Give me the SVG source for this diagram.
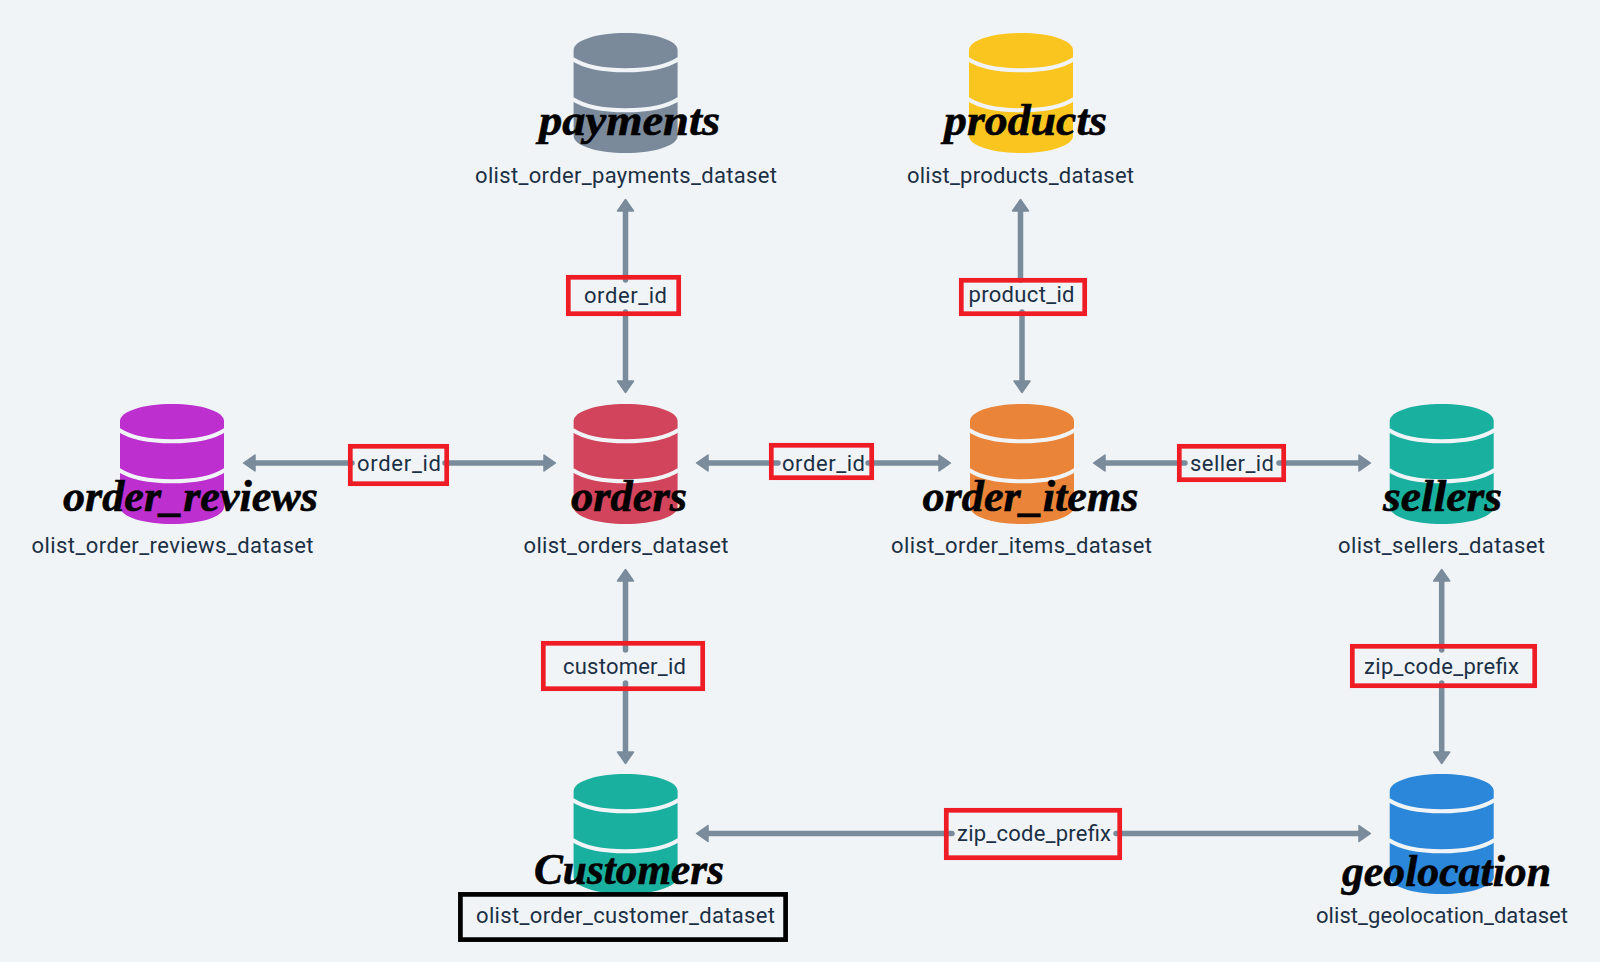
<svg xmlns="http://www.w3.org/2000/svg" xmlns:xlink="http://www.w3.org/1999/xlink" width="1600" height="962" viewBox="0 0 1600 962">
<style>
.bg{fill:#f1f4f7}
.conn{stroke:#7a8b9b;stroke-width:5.500;stroke-linecap:round;fill:none;marker-end:url(#head)}
.box{fill:none;stroke:#ee1c25;stroke-width:4.7}
.box2{fill:none;stroke:#000;stroke-width:4.7}
.lab{font-family:Roboto,"Liberation Sans",sans-serif;font-size:22px;fill:#1b3045}
.title{font-family:"Liberation Serif",serif;font-style:italic;font-weight:700;font-size:44px;fill:#000;stroke:#000;stroke-width:.6}
.band{fill:none;stroke:#f1f4f7;stroke-width:4}
</style>
<defs>
<marker id="head" markerUnits="userSpaceOnUse" markerWidth="16" markerHeight="22" refX="1" refY="11" orient="auto" viewBox="0 0 16 22">
<path d="M1,3L12.500,11L1,19Z" fill="#7a8b9b" stroke="#7a8b9b" stroke-width="1.500" stroke-linejoin="round"/>
</marker>
<g id="cyl">
<path d="M-52,17C-52,7.500-29,0,0,0S52,7.500,52,17V103C52,112.500,29,120,0,120S-52,112.500-52,103Z"/>
<path class="band" d="M-53,26C-30,41,30,41,53,26"/>
<path class="band" d="M-53,66C-30,81,30,81,53,66"/>
</g>
</defs>
<rect class="bg" width="1600" height="962"/>
<g id="connectors">
<path class="conn" d="M625.500,280V211"/>
<path class="conn" d="M625.500,312V381"/>
<path class="conn" d="M1020.500,280V211"/>
<path class="conn" d="M1022,312V381"/>
<path class="conn" d="M352,463H255"/>
<path class="conn" d="M445,463H544"/>
<path class="conn" d="M778,463H708"/>
<path class="conn" d="M868,463H939"/>
<path class="conn" d="M1185,463H1105"/>
<path class="conn" d="M1279,463H1359"/>
<path class="conn" d="M625.500,650V581"/>
<path class="conn" d="M625.500,683V752"/>
<path class="conn" d="M1441.700,650V581"/>
<path class="conn" d="M1441.700,683V752"/>
<path class="conn" d="M952,833.500H708"/>
<path class="conn" d="M1116,833.500H1359"/>
</g>
<g id="payments" fill="#7a8a9a">
<use xlink:href="#cyl" href="#cyl" x="625.600" y="33"/>
<text class="title" x="539" y="135" textLength="181" lengthAdjust="spacingAndGlyphs">payments</text>
<text class="lab" x="475" y="183" textLength="302">olist_order_payments_dataset</text>
</g>
<g id="products" fill="#fbc520">
<use xlink:href="#cyl" href="#cyl" x="1021" y="33"/>
<text class="title" x="944" y="135" textLength="163" lengthAdjust="spacingAndGlyphs">products</text>
<text class="lab" x="907" y="183" textLength="227">olist_products_dataset</text>
</g>
<g id="order_reviews" fill="#bd30cf">
<use xlink:href="#cyl" href="#cyl" x="172" y="404"/>
<text class="title" x="63" y="511" textLength="255" lengthAdjust="spacingAndGlyphs">order_reviews</text>
<text class="lab" x="31.500" y="553" textLength="282">olist_order_reviews_dataset</text>
</g>
<g id="orders" fill="#d2445c">
<use xlink:href="#cyl" href="#cyl" x="625.600" y="404"/>
<text class="title" x="571" y="511" textLength="116" lengthAdjust="spacingAndGlyphs">orders</text>
<text class="lab" x="523.500" y="553" textLength="205">olist_orders_dataset</text>
</g>
<g id="order_items" fill="#e98438">
<use xlink:href="#cyl" href="#cyl" x="1022" y="404"/>
<text class="title" x="922.500" y="511" textLength="216" lengthAdjust="spacingAndGlyphs">order_items</text>
<text class="lab" x="891" y="553" textLength="261">olist_order_items_dataset</text>
</g>
<g id="sellers" fill="#1ab09f">
<use xlink:href="#cyl" href="#cyl" x="1441.700" y="404"/>
<text class="title" x="1383" y="511" textLength="119" lengthAdjust="spacingAndGlyphs">sellers</text>
<text class="lab" x="1338" y="553" textLength="207">olist_sellers_dataset</text>
</g>
<g id="customers" fill="#1ab09f">
<use xlink:href="#cyl" href="#cyl" x="625.600" y="774"/>
<text class="title" x="534" y="884" textLength="190" lengthAdjust="spacingAndGlyphs">Customers</text>
<rect class="box2" x="460.400" y="894.400" width="325.200" height="45.200"/>
<text class="lab" x="476" y="923" textLength="299">olist_order_customer_dataset</text>
</g>
<g id="geolocation" fill="#2b87da">
<use xlink:href="#cyl" href="#cyl" x="1441.700" y="774"/>
<text class="title" x="1342" y="886" textLength="209" lengthAdjust="spacingAndGlyphs">geolocation</text>
<text class="lab" x="1316" y="923" textLength="252">olist_geolocation_dataset</text>
</g>
<g id="edge-payments-orders"><rect class="box" x="568.300" y="277.300" width="110.400" height="36.400"/><text class="lab" x="584" y="303" textLength="83">order_id</text></g>
<g id="edge-products-items"><rect class="box" x="961.300" y="280.300" width="123.400" height="33.400"/><text class="lab" x="968.500" y="302" textLength="106">product_id</text></g>
<g id="edge-reviews-orders"><rect class="box" x="350.300" y="446.300" width="96.400" height="37.400"/><text class="lab" x="357" y="471" textLength="84">order_id</text></g>
<g id="edge-orders-items"><rect class="box" x="771.300" y="445.300" width="100.400" height="32.400"/><text class="lab" x="782" y="471" textLength="83">order_id</text></g>
<g id="edge-items-sellers"><rect class="box" x="1179.300" y="446.300" width="104.400" height="33.400"/><text class="lab" x="1190" y="471" textLength="84">seller_id</text></g>
<g id="edge-orders-customers"><rect class="box" x="543.300" y="643.300" width="159.400" height="45.400"/><text class="lab" x="563" y="674" textLength="123">customer_id</text></g>
<g id="edge-sellers-geolocation"><rect class="box" x="1352.300" y="646.300" width="182.400" height="39.400"/><text class="lab" x="1364" y="674" textLength="155">zip_code_prefix</text></g>
<g id="edge-customers-geolocation"><rect class="box" x="946.300" y="810.300" width="173.400" height="47.400"/><text class="lab" x="957" y="841" textLength="154">zip_code_prefix</text></g>
</svg>
